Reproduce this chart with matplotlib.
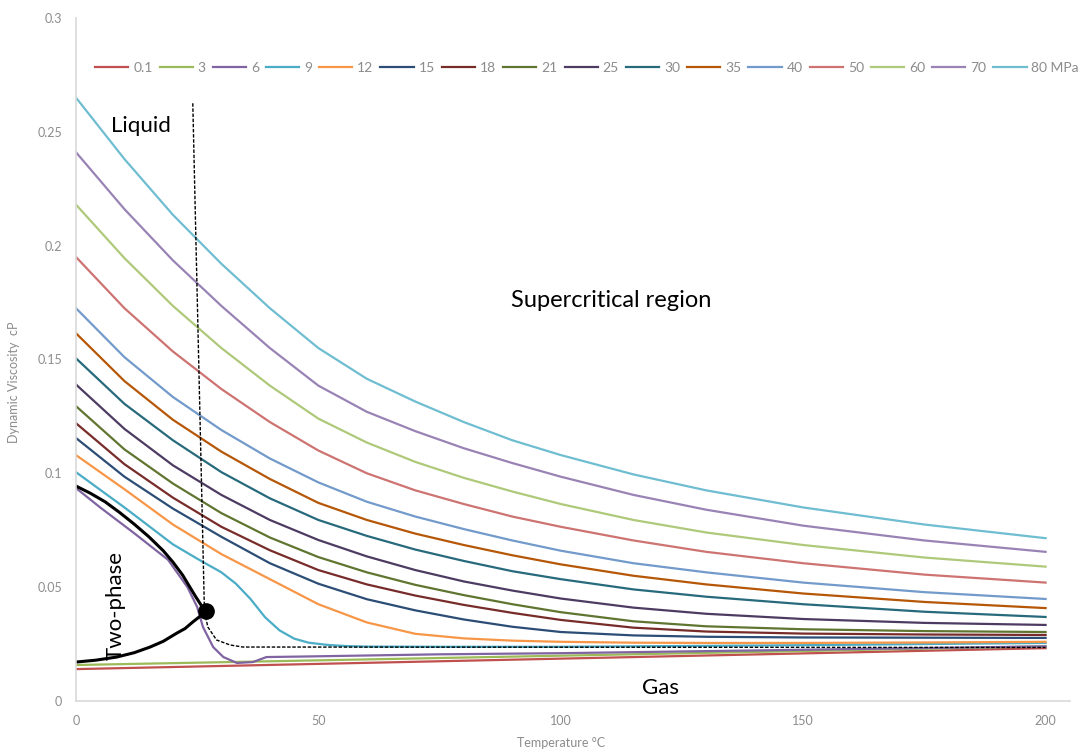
import numpy as np
import matplotlib.pyplot as plt

plt.rcParams['font.family'] = ['Lato', 'DejaVu Sans']

# temperature grid (deg C) shared by the liquid/supercritical isobars
T = [0, 10, 20, 30, 40, 50, 60, 70, 80, 90, 100, 115, 130, 150, 175, 200]

# viscosity (cP) per isobar (MPa)
mu_12 = [0.108, 0.093, 0.0775, 0.0645, 0.0535, 0.0425, 0.0345, 0.0295, 0.0275, 0.0265, 0.026, 0.0256, 0.0255, 0.0255, 0.0257, 0.026]
mu_15 = [0.1155, 0.0985, 0.0845, 0.0721, 0.0605, 0.0515, 0.0447, 0.0398, 0.0358, 0.0326, 0.0303, 0.0288, 0.0282, 0.0279, 0.0278, 0.0277]
mu_18 = [0.122, 0.104, 0.0893, 0.0765, 0.0662, 0.0575, 0.0512, 0.0463, 0.0422, 0.0387, 0.0356, 0.0322, 0.0305, 0.0296, 0.0292, 0.029]
mu_21 = [0.1295, 0.1105, 0.0955, 0.0825, 0.0718, 0.0632, 0.0565, 0.051, 0.0465, 0.0425, 0.039, 0.035, 0.0328, 0.0315, 0.0307, 0.0303]
mu_25 = [0.139, 0.1195, 0.1035, 0.0905, 0.0795, 0.0707, 0.0635, 0.0575, 0.0525, 0.0485, 0.045, 0.041, 0.0383, 0.036, 0.0343, 0.0334]
mu_30 = [0.1505, 0.1305, 0.1145, 0.1005, 0.089, 0.0795, 0.0725, 0.0665, 0.0615, 0.057, 0.0535, 0.049, 0.0458, 0.0425, 0.0392, 0.0369]
mu_35 = [0.1615, 0.1405, 0.1235, 0.1095, 0.0975, 0.087, 0.0795, 0.0735, 0.0685, 0.064, 0.06, 0.055, 0.0512, 0.0472, 0.0435, 0.0408]
mu_40 = [0.1725, 0.151, 0.1335, 0.119, 0.1065, 0.096, 0.0875, 0.081, 0.0755, 0.0705, 0.066, 0.0605, 0.0565, 0.052, 0.0478, 0.0448]
mu_50 = [0.195, 0.1725, 0.1535, 0.137, 0.1225, 0.11, 0.1, 0.0925, 0.0865, 0.081, 0.0765, 0.0705, 0.0655, 0.0605, 0.0555, 0.052]
mu_60 = [0.218, 0.1945, 0.1735, 0.155, 0.1385, 0.124, 0.1135, 0.105, 0.098, 0.092, 0.0865, 0.0795, 0.074, 0.0685, 0.063, 0.059]
mu_70 = [0.241, 0.216, 0.1935, 0.1735, 0.155, 0.1385, 0.127, 0.1185, 0.111, 0.1045, 0.0985, 0.0905, 0.084, 0.077, 0.0705, 0.0655]
mu_80 = [0.265, 0.238, 0.2135, 0.192, 0.1725, 0.155, 0.1415, 0.1315, 0.1225, 0.1145, 0.108, 0.0995, 0.0925, 0.085, 0.0775, 0.0715]

# gas-phase isobars
T_gas = [0, 200]
mu_01 = [0.0140, 0.0232]
mu_3 = [0.0158, 0.0240]

# 6 and 9 MPa cross the saturation / pseudo-critical zone
T_6 = [0, 5, 12, 19, 23, 25, 26.2, 28.3, 30.4, 33.2, 36.5, 39.3, 46, 75, 100, 150, 200]
mu_6 = [0.0935, 0.085, 0.0737, 0.062, 0.050, 0.0413, 0.0325, 0.0237, 0.0193, 0.0167, 0.0171,
        0.0193, 0.0195, 0.0205, 0.021, 0.0225, 0.024]
T_9 = [0, 10, 20, 25, 30, 33, 36, 39, 42, 45, 48, 52, 56, 60, 75, 100, 150, 200]
mu_9 = [0.1005, 0.085, 0.0688, 0.0625, 0.0565, 0.0515, 0.0448, 0.0368, 0.031, 0.0274, 0.0256,
        0.0246, 0.0241, 0.0239, 0.0238, 0.0238, 0.0245, 0.0255]

# two-phase envelope and critical point
T_liq = [0, 3, 6, 9, 12, 15, 18, 20, 22, 23.5, 24.7, 25.7, 26.4, 26.8]
mu_liq = [0.0944, 0.0912, 0.0875, 0.0828, 0.0777, 0.0722, 0.066, 0.061, 0.0553, 0.05, 0.0458, 0.0425, 0.0402, 0.0395]
T_vap = [0, 4, 8.4, 12, 15.3, 18, 20.8, 22.5, 24.1, 25.6, 26.8]
mu_vap = [0.0171, 0.0179, 0.0193, 0.0212, 0.0237, 0.0262, 0.0298, 0.0318, 0.0347, 0.0372, 0.0395]
T_crit, mu_crit = 26.8, 0.0395

# liquid / supercritical / gas boundaries
T_bound = [24.1, 26.5, 27.2, 29, 31.8, 34.4, 200]
mu_bound = [0.2625, 0.0395, 0.0325, 0.0268, 0.0246, 0.0237, 0.0235]

labels = ['0.1', '3', '6', '9', '12', '15', '18', '21', '25', '30', '35', '40', '50', '60', '70', '80 MPa']
colors = ['#C0504D', '#9BBB59', '#8064A2', '#4BACC6', '#F79646', '#2C4D75', '#772C2A', '#5F7530',
          '#4D3B62', '#276A7C', '#B65708', '#729ACA', '#CD7371', '#AFC97A', '#9983B5', '#6FBDD1']

series = [(T_gas, mu_01), (T_gas, mu_3), (T_6, mu_6), (T_9, mu_9),
          (T, mu_12), (T, mu_15), (T, mu_18), (T, mu_21), (T, mu_25), (T, mu_30),
          (T, mu_35), (T, mu_40), (T, mu_50), (T, mu_60), (T, mu_70), (T, mu_80)]

fig = plt.figure(figsize=(10.85, 7.54), dpi=100)
ax = fig.add_axes([0.070, 0.0703, 0.916, 0.906])

for (x, y), lab, c in zip(series, labels, colors):
    ax.plot(x, y, color=c, lw=1.6, label=lab, solid_joinstyle='round')

ax.plot(T_bound, mu_bound, color='black', lw=1.0, ls=(0, (2.5, 1.2)))
ax.plot(T_liq, mu_liq, color='black', lw=2.2, solid_joinstyle='round')
ax.plot(T_vap, mu_vap, color='black', lw=2.2, solid_joinstyle='round')
ax.plot([T_crit], [mu_crit], 'o', color='black', ms=11)

ax.text(13.5, 0.2525, 'Liquid', fontsize=16, ha='center', va='center')
ax.text(110.5, 0.176, 'Supercritical region', fontsize=17, ha='center', va='center')
ax.text(8.2, 0.042, 'Two-phase', fontsize=16, ha='center', va='center', rotation=90)
ax.text(120.5, 0.0057, 'Gas', fontsize=16, ha='center', va='center')

ax.set_xlim(0, 205)
ax.set_ylim(0, 0.3)
ax.set_xticks([0, 50, 100, 150, 200])
ax.set_yticks([0, 0.05, 0.1, 0.15, 0.2, 0.25, 0.3])
ax.set_yticklabels(['0', '0.05', '0.1', '0.15', '0.2', '0.25', '0.3'])
ax.tick_params(length=0, labelsize=9, colors='#8C8C8C', pad=10)
for s in ['top', 'right']:
    ax.spines[s].set_visible(False)
for s in ['left', 'bottom']:
    ax.spines[s].set_color('#D9D9D9')
    ax.spines[s].set_linewidth(1.2)

ax.set_xlabel('Temperature °C', fontsize=9, color='#8C8C8C')
ax.set_ylabel('Dynamic Viscosity  cP', fontsize=9, color='#8C8C8C')
ax.xaxis.set_label_coords(0.488, -0.052)
ax.yaxis.set_label_coords(-0.056, 0.466)

fig.legend(loc='center', bbox_to_anchor=(0.541, 0.91), ncol=16, frameon=False,
           fontsize=10, labelcolor='#8C8C8C', handlelength=2.4, handletextpad=0.35,
           columnspacing=0.5)

fig.savefig('out.png', dpi=100)
